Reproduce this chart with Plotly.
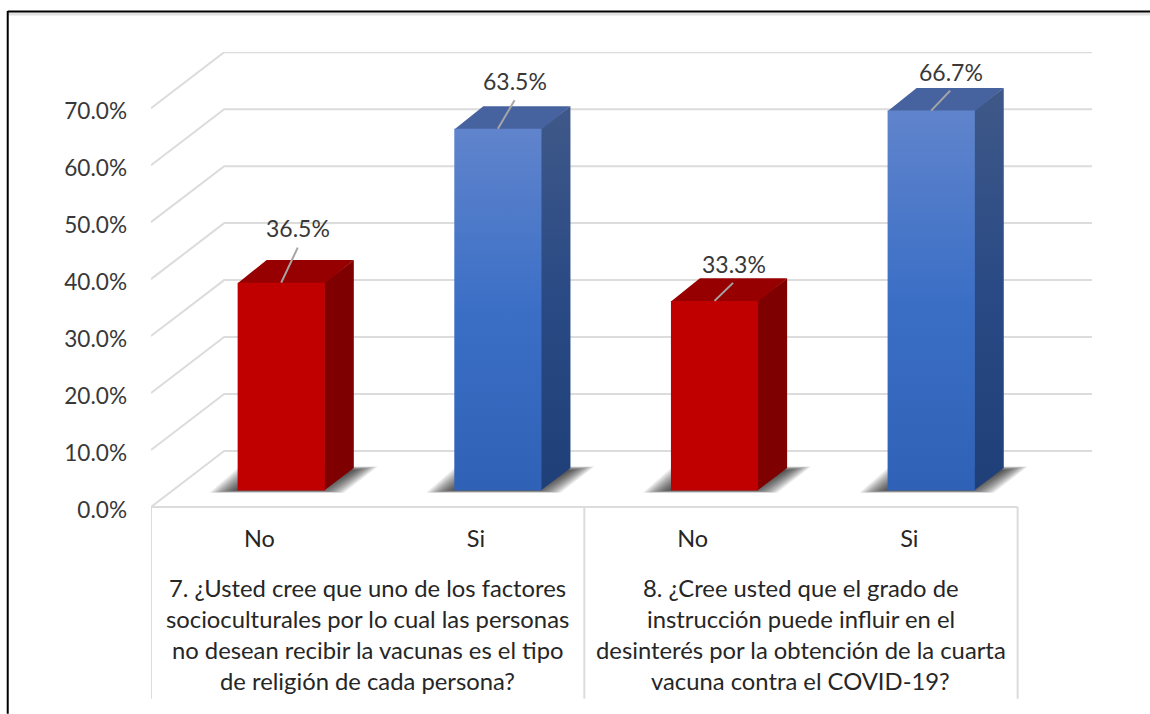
import plotly.graph_objects as go

# ---------- data ----------
categories = ["No", "Si", "No", "Si"]
values = [36.5, 63.5, 33.3, 66.7]
y_ticks = [0, 10, 20, 30, 40, 50, 60, 70]
group_1_lines = ["7. ¿Usted cree que uno de los factores",
                 "socioculturales por lo cual las personas",
                 "no desean recibir la vacunas es el tipo",
                 "de religión de cada persona?"]
group_2_lines = ["8. ¿Cree usted que el grado de",
                 "instrucción puede influir en el",
                 "desinterés por la obtención de la cuarta",
                 "vacuna contra el COVID-19?"]

# ---------- geometry of the pseudo-3D view ----------
W, H = 1150, 714
L, R, T, B = 150.8, 1092.0, 52.0, 507.2     # plot area in pixels
UX = 216.7                                  # px per category
UY = 5.7                                    # px per percent
XMIN = -0.5
XMAX = XMIN + (R - L) / UX
YMAX = (B - T) / UY
WALL_DX, WALL_DY = (224.0 - L) / UX, (B - 451.2) / UY   # depth of floor
BAR_W = 87.2 / UX
BAR_FRONT_DX, BAR_FRONT_DY = 21.9 / UX, 16.4 / UY       # front face inset
BAR_DX, BAR_DY = 29.0 / UX, 22.7 / UY                   # bar depth

FONT = "Lato"
TICK_COLOR = "#383838"
TEXT_COLOR = "#262626"
GRID = "#dcdcdc"

styles = {
    "No": dict(front=[[0, "#c00000"], [1, "#c00000"]],
               side=[[0, "#7f0000"], [1, "#7f0000"]],
               top="#960000"),
    "Si": dict(front=[[0, "#2f62b6"], [0.5, "#3b6fc6"], [1, "#6084cc"]],
               side=[[0, "#1f3f78"], [0.5, "#2a4a85"], [1, "#3f5888"]],
               top="#47639f"),
}

fig = go.Figure()


def poly(xs, ys, color=None, gradient=None):
    kw = dict(fillgradient=dict(type="vertical", colorscale=gradient)) if gradient else dict(fillcolor=color)
    fig.add_trace(go.Scatter(x=xs + xs[:1], y=ys + ys[:1], mode="lines", fill="toself",
                             line=dict(width=0), hoverinfo="skip", showlegend=False, **kw))


# walls: gridlines run from the front edge up the side wall and along the back wall
for v in y_ticks:
    fig.add_trace(go.Scatter(
        x=[XMIN, XMIN + WALL_DX, XMAX], y=[v, v + WALL_DY, v + WALL_DY],
        mode="lines", line=dict(color=GRID, width=2), hoverinfo="skip",
        showlegend=False, cliponaxis=False))

# bars
SHADOW_LAYERS = 14
for i, (cat, val) in enumerate(zip(categories, values)):
    st = styles[cat]
    x0 = i - BAR_W / 2 + BAR_FRONT_DX
    x1 = x0 + BAR_W
    y0 = BAR_FRONT_DY
    y1 = y0 + val
    # blurred floor shadow: nested parallelograms, darkest against the bar
    for k in range(SHADOW_LAYERS):
        t = k / (SHADOW_LAYERS - 1)
        bl = x0 + (-28 + 27 * t) / UX
        br = x1 + (19 - 25 * t) / UX
        yb = y0 + (-2.2 + 2.5 * t) / UY
        yt = y0 + BAR_DY + (1.5 - 4 * t) / UY
        poly([bl, br, br + 34 / UX, bl + 30 / UX], [yb, yb, yt, yt],
             color="rgba(20,20,20,0.085)")
    # side, top, front (slightly underlapped so no seams show)
    poly([x1 - 0.7 / UX, x1 + BAR_DX, x1 + BAR_DX, x1 - 0.7 / UX],
         [y0, y0 + BAR_DY, y1 + BAR_DY, y1], gradient=st["side"])
    poly([x0, x0 + BAR_DX, x1 + BAR_DX, x1], [y1 - 0.7 / UY, y1 + BAR_DY, y1 + BAR_DY, y1 - 0.7 / UY],
         color=st["top"])
    poly([x0, x1, x1, x0], [y0, y0, y1, y1], gradient=st["front"])

# data-label leaders and labels
label_offsets = [(16.7, 54.8, 16.5, 35), (16.7, 47.8, 16.7, 28.5),
                 (19.5, 37, 18.5, 18), (19.5, 39, 19, 20)]
annotations = []
for i, (val, off) in enumerate(zip(values, label_offsets)):
    cx = i + BAR_FRONT_DX
    cy = val + BAR_FRONT_DY
    fig.add_trace(go.Scatter(
        x=[cx, cx + off[2] / UX], y=[cy, cy + off[3] / UY], mode="lines",
        line=dict(color="#a6a6a6", width=2), hoverinfo="skip", showlegend=False))
    annotations.append(dict(x=cx + off[0] / UX, y=cy + off[1] / UY, xref="x", yref="y",
                            text=f"{val:.1f}%", showarrow=False, xanchor="center", yanchor="middle",
                            font=dict(family=FONT, size=23, color=TICK_COLOR)))

# two-level category captions
for center, lines in ((0.5, group_1_lines), (2.5, group_2_lines)):
    for n, line in enumerate(lines):
        annotations.append(dict(x=center, y=1 - (588 + 31.2 * n - T) / (B - T), xref="x", yref="paper",
                                text=line, showarrow=False, xanchor="center", yanchor="middle",
                                font=dict(family=FONT, size=23.8, color=TEXT_COLOR)))

# table rules below the floor and picture frame
rule = dict(color=GRID, width=2)
shapes = [dict(type="line", xref="x", yref="paper", x0=XMIN, x1=3.5, y0=0, y1=0, line=rule)]
for xv in (XMIN, 1.5, 3.5):
    shapes.append(dict(type="line", xref="x", yref="paper", x0=xv, x1=xv, y0=0,
                       y1=-(699 - B) / (B - T), line=rule))
shapes += [
    dict(type="line", xref="paper", yref="paper", layer="above",
         x0=(7.5 - L) / (R - L), x1=(W - L) / (R - L),
         y0=1 + (T - 14) / (B - T), y1=1 + (T - 14) / (B - T),
         line=dict(color="#e2e2e2", width=3)),
    dict(type="line", xref="paper", yref="paper", layer="above",
         x0=(7.5 - L) / (R - L), x1=(W - L) / (R - L),
         y0=1 + (T - 11.5) / (B - T), y1=1 + (T - 11.5) / (B - T),
         line=dict(color="#000000", width=2)),
    dict(type="line", xref="paper", yref="paper", layer="above",
         x0=(7.5 - L) / (R - L), x1=(7.5 - L) / (R - L),
         y0=1 + (T - 11) / (B - T), y1=1 - (H - T) / (B - T),
         line=dict(color="#000000", width=2)),
]

fig.update_layout(
    width=W, height=H,
    margin=dict(l=L, r=W - R, t=T, b=H - B, pad=0, autoexpand=False),
    paper_bgcolor="white", plot_bgcolor="white", showlegend=False,
    xaxis=dict(range=[XMIN, XMAX], tickmode="array", tickvals=list(range(len(categories))),
               ticktext=categories, showgrid=False, zeroline=False, showline=False, ticks="",
               ticklabelstandoff=15, tickfont=dict(family=FONT, size=23.5, color=TEXT_COLOR)),
    yaxis=dict(range=[0, YMAX], tickmode="array", tickvals=y_ticks,
               ticktext=[f"{v:.1f}%" for v in y_ticks], showgrid=False, zeroline=False,
               showline=False, ticks="", ticklabelstandoff=23, ticklabelshift=3,
               tickfont=dict(family=FONT, size=22.6, color=TICK_COLOR)),
    annotations=annotations, shapes=shapes,
)

fig.write_html("out.html", config={"displayModeBar": False},
               post_script="document.body.style.margin='0px';")
